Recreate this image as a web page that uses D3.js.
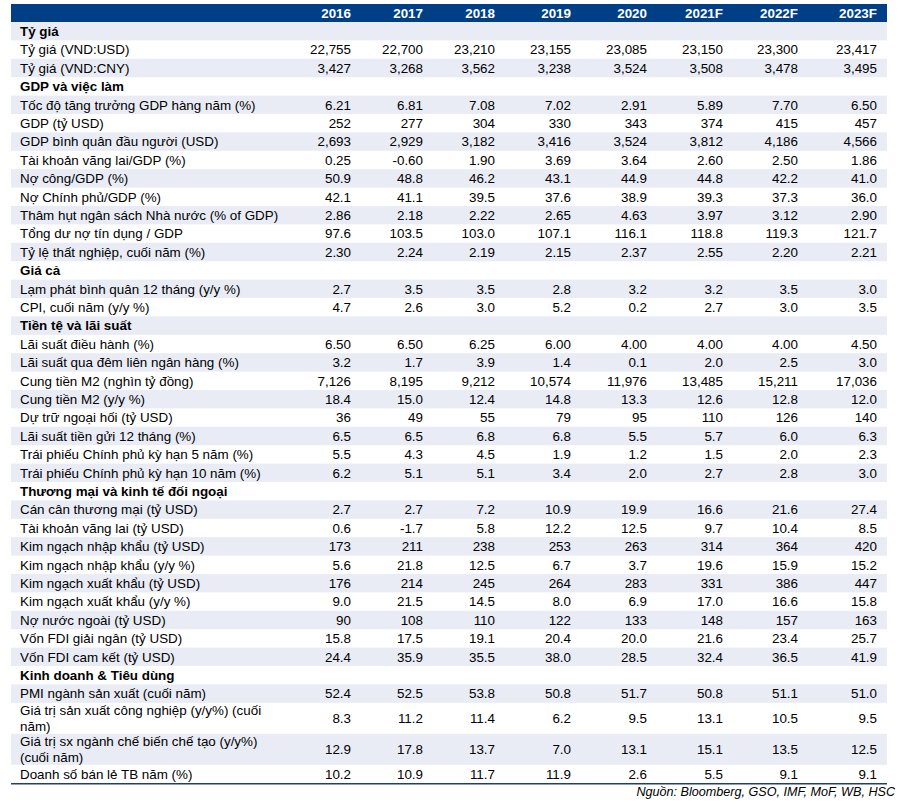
<!DOCTYPE html>
<html>
<head>
<meta charset="utf-8">
<script src="https://cdn.jsdelivr.net/npm/d3@7"></script>
<style>
  body { margin: 0; background: #fff; }
  text { font-family: "Liberation Sans", Arial, sans-serif; }
</style>
</head>
<body>
<div class="table-container"></div>
<script>
// Column headers
const years = ['2016', '2017', '2018', '2019', '2020', '2021F', '2022F', '2023F'];

// Each section: rows of [label lines, values, decimals]
const tyGia = [
    [['Tỷ giá (VND:USD)'], [22755, 22700, 23210, 23155, 23085, 23150, 23300, 23417], 0],
    [['Tỷ giá (VND:CNY)'], [3427, 3268, 3562, 3238, 3524, 3508, 3478, 3495], 0]
];
const gdpViecLam = [
    [['Tốc độ tăng trưởng GDP hàng năm (%)'], [6.21, 6.81, 7.08, 7.02, 2.91, 5.89, 7.70, 6.50], 2],
    [['GDP (tỷ USD)'], [252, 277, 304, 330, 343, 374, 415, 457], 0],
    [['GDP bình quân đầu người (USD)'], [2693, 2929, 3182, 3416, 3524, 3812, 4186, 4566], 0],
    [['Tài khoản vãng lai/GDP (%)'], [0.25, -0.60, 1.90, 3.69, 3.64, 2.60, 2.50, 1.86], 2],
    [['Nợ công/GDP (%)'], [50.9, 48.8, 46.2, 43.1, 44.9, 44.8, 42.2, 41.0], 1],
    [['Nợ Chính phủ/GDP (%)'], [42.1, 41.1, 39.5, 37.6, 38.9, 39.3, 37.3, 36.0], 1],
    [['Thâm hụt ngân sách Nhà nước (% of GDP)'], [2.86, 2.18, 2.22, 2.65, 4.63, 3.97, 3.12, 2.90], 2],
    [['Tổng dư nợ tín dụng / GDP'], [97.6, 103.5, 103.0, 107.1, 116.1, 118.8, 119.3, 121.7], 1],
    [['Tỷ lệ thất nghiệp, cuối năm (%)'], [2.30, 2.24, 2.19, 2.15, 2.37, 2.55, 2.20, 2.21], 2]
];
const giaCa = [
    [['Lạm phát bình quân 12 tháng (y/y %)'], [2.7, 3.5, 3.5, 2.8, 3.2, 3.2, 3.5, 3.0], 1],
    [['CPI, cuối năm (y/y %)'], [4.7, 2.6, 3.0, 5.2, 0.2, 2.7, 3.0, 3.5], 1]
];
const tienTe = [
    [['Lãi suất điều hành (%)'], [6.50, 6.50, 6.25, 6.00, 4.00, 4.00, 4.00, 4.50], 2],
    [['Lãi suất qua đêm liên ngân hàng (%)'], [3.2, 1.7, 3.9, 1.4, 0.1, 2.0, 2.5, 3.0], 1],
    [['Cung tiền M2 (nghìn tỷ đồng)'], [7126, 8195, 9212, 10574, 11976, 13485, 15211, 17036], 0],
    [['Cung tiền M2 (y/y %)'], [18.4, 15.0, 12.4, 14.8, 13.3, 12.6, 12.8, 12.0], 1],
    [['Dự trữ ngoại hối (tỷ USD)'], [36, 49, 55, 79, 95, 110, 126, 140], 0],
    [['Lãi suất tiền gửi 12 tháng (%)'], [6.5, 6.5, 6.8, 6.8, 5.5, 5.7, 6.0, 6.3], 1],
    [['Trái phiếu Chính phủ kỳ hạn 5 năm (%)'], [5.5, 4.3, 4.5, 1.9, 1.2, 1.5, 2.0, 2.3], 1],
    [['Trái phiếu Chính phủ kỳ hạn 10 năm (%)'], [6.2, 5.1, 5.1, 3.4, 2.0, 2.7, 2.8, 3.0], 1]
];
const thuongMai = [
    [['Cán cân thương mại (tỷ USD)'], [2.7, 2.7, 7.2, 10.9, 19.9, 16.6, 21.6, 27.4], 1],
    [['Tài khoản vãng lai (tỷ USD)'], [0.6, -1.7, 5.8, 12.2, 12.5, 9.7, 10.4, 8.5], 1],
    [['Kim ngạch nhập khẩu (tỷ USD)'], [173, 211, 238, 253, 263, 314, 364, 420], 0],
    [['Kim ngạch nhập khẩu (y/y %)'], [5.6, 21.8, 12.5, 6.7, 3.7, 19.6, 15.9, 15.2], 1],
    [['Kim ngạch xuất khẩu (tỷ USD)'], [176, 214, 245, 264, 283, 331, 386, 447], 0],
    [['Kim ngạch xuất khẩu (y/y %)'], [9.0, 21.5, 14.5, 8.0, 6.9, 17.0, 16.6, 15.8], 1],
    [['Nợ nước ngoài (tỷ USD)'], [90, 108, 110, 122, 133, 148, 157, 163], 0],
    [['Vốn FDI giải ngân (tỷ USD)'], [15.8, 17.5, 19.1, 20.4, 20.0, 21.6, 23.4, 25.7], 1],
    [['Vốn FDI cam kết (tỷ USD)'], [24.4, 35.9, 35.5, 38.0, 28.5, 32.4, 36.5, 41.9], 1]
];
const kinhDoanh = [
    [['PMI ngành sản xuất (cuối năm)'], [52.4, 52.5, 53.8, 50.8, 51.7, 50.8, 51.1, 51.0], 1],
    [['Giá trị sản xuất công nghiệp (y/y%) (cuối', 'năm)'], [8.3, 11.2, 11.4, 6.2, 9.5, 13.1, 10.5, 9.5], 1],
    [['Giá trị sx ngành chế biến chế tạo (y/y%)', '(cuối năm)'], [12.9, 17.8, 13.7, 7.0, 13.1, 15.1, 13.5, 12.5], 1],
    [['Doanh số bán lẻ TB năm (%)'], [10.2, 10.9, 11.7, 11.9, 2.6, 5.5, 9.1, 9.1], 1]
];

const sections = [
    ['Tỷ giá', tyGia],
    ['GDP và việc làm', gdpViecLam],
    ['Giá cả', giaCa],
    ['Tiền tệ và lãi suất', tienTe],
    ['Thương mại và kinh tế đối ngoại', thuongMai],
    ['Kinh doanh & Tiêu dùng', kinhDoanh]
];

const source = 'Nguồn: Bloomberg, GSO, IMF, MoF, WB, HSC';

function createTable() {
    d3.select('.table-container').html('');

    const W = 902, H = 802;
    const left = 11, right = 887;
    const headerTop = 4, headerH = 18;
    const rowH = 18.4, extraLineH = 12.6, lineH = 16;
    const fontSize = 13.4;

    // Right edge of each year column (columns are not all the same width)
    const colRight = [351, 423, 495, 571, 647, 723, 798, 877];

    // Hyphen minus like the source sheet
    const locale = d3.formatLocale({ decimal: '.', thousands: ',', grouping: [3], currency: ['', ''], minus: '-' });

    // Flatten sections into rows
    const rows = [];
    sections.forEach(([title, items]) => {
        rows.push({ type: 'section', lines: [title] });
        items.forEach(([lines, values, dec]) => {
            rows.push({ type: 'data', lines, values, fmt: locale.format(',.' + dec + 'f') });
        });
    });
    const heights = rows.map(r => rowH + (r.lines.length - 1) * extraLineH);
    const tops = [0, ...d3.cumsum(heights)].map(v => v + headerTop + headerH);
    rows.forEach((r, i) => { r.y = tops[i]; r.h = heights[i]; });
    const tableBottom = tops[rows.length];

    const xScale = d3.scaleOrdinal()
        .domain(years)
        .range(colRight);

    const svg = d3.select('.table-container')
        .append('svg')
        .attr('width', W)
        .attr('height', H);

    // Header band
    svg.append('rect')
        .attr('x', left)
        .attr('y', headerTop)
        .attr('width', right - left)
        .attr('height', headerH)
        .attr('fill', '#003f86');

    svg.append('g')
        .selectAll('text')
        .data(years)
        .enter()
        .append('text')
        .attr('x', d => xScale(d))
        .attr('y', headerTop + headerH / 2)
        .attr('dy', '0.36em')
        .attr('text-anchor', 'end')
        .attr('fill', '#fff')
        .attr('font-weight', 'bold')
        .attr('font-size', fontSize)
        .text(d => d);

    // Zebra stripes
    svg.append('g')
        .selectAll('rect')
        .data(rows.filter((d, i) => i % 2 === 0))
        .enter()
        .append('rect')
        .attr('x', left)
        .attr('y', d => d.y)
        .attr('width', right - left)
        .attr('height', d => d.h)
        .attr('fill', '#e9ecf5');

    const row = svg.selectAll('.row')
        .data(rows)
        .enter()
        .append('g')
        .attr('class', 'row')
        .attr('transform', d => `translate(0,${d.y + d.h / 2})`);

    // Row labels (one or two lines)
    row.append('text')
        .attr('x', 20)
        .attr('font-size', fontSize)
        .attr('font-weight', d => d.type === 'section' ? 'bold' : 'normal')
        .attr('fill', '#000')
        .selectAll('tspan')
        .data(d => d.lines.map((t, i) => ({ t, i, n: d.lines.length })))
        .enter()
        .append('tspan')
        .attr('x', 20)
        .attr('y', d => (d.i - (d.n - 1) / 2) * lineH)
        .attr('dy', '0.36em')
        .text(d => d.t);

    // Values
    row.filter(d => d.type === 'data')
        .selectAll('.val')
        .data(d => d.values.map((v, i) => ({ v, year: years[i], fmt: d.fmt })))
        .enter()
        .append('text')
        .attr('class', 'val')
        .attr('x', d => xScale(d.year))
        .attr('dy', '0.36em')
        .attr('text-anchor', 'end')
        .attr('font-size', fontSize)
        .attr('fill', '#000')
        .text(d => d.fmt(d.v));

    // Bottom rule
    svg.append('line')
        .attr('x1', left)
        .attr('x2', right)
        .attr('y1', tableBottom + 0.5)
        .attr('y2', tableBottom + 0.5)
        .attr('stroke', '#1f3f6e')
        .attr('stroke-width', 1.5);

    // Source note
    svg.append('text')
        .attr('x', 895)
        .attr('y', tableBottom + 8.5)
        .attr('dy', '0.36em')
        .attr('text-anchor', 'end')
        .attr('font-size', 12.6)
        .attr('font-style', 'italic')
        .attr('fill', '#000')
        .text(source);
}

createTable();
</script>
</body>
</html>
